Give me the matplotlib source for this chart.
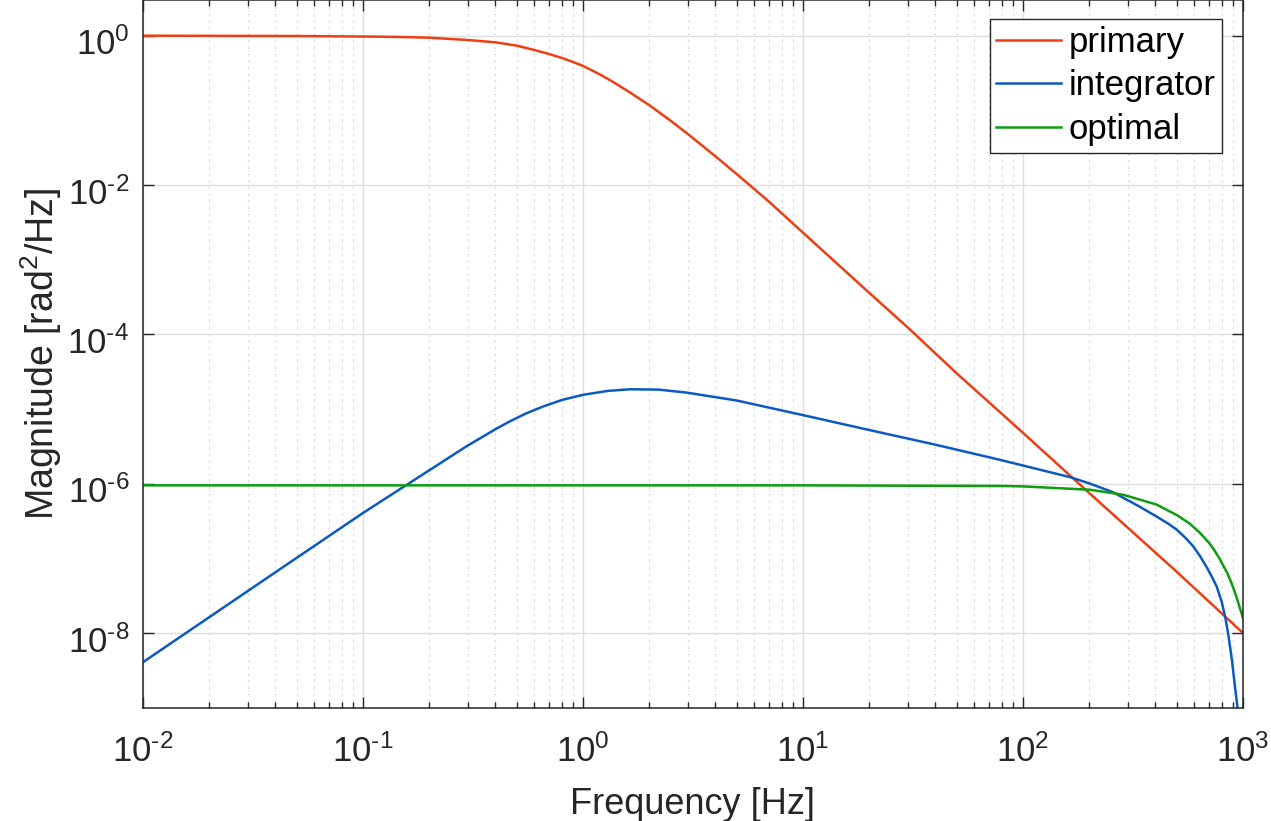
import numpy as np
import matplotlib
matplotlib.use("Agg")
import matplotlib.pyplot as plt
from matplotlib.ticker import LogLocator, NullLocator, NullFormatter, FuncFormatter
from matplotlib.transforms import ScaledTranslation

plt.rcParams.update({
    'font.family': ['Liberation Sans', 'DejaVu Sans'],
    'font.size': 25,
    'mathtext.fontset': 'custom',
    'mathtext.rm': 'Liberation Sans',
    'mathtext.it': 'Liberation Sans:italic',
    'mathtext.bf': 'Liberation Sans:bold',
    'axes.unicode_minus': False,
})

# values (frequency in Hz, magnitude in rad^2/Hz)
primary_f = [0.01, 0.05, 0.12, 0.15, 0.2, 0.3, 0.4, 0.5, 0.6, 0.7, 0.8, 0.9, 1.0, 1.2,
             1.37, 1.6, 2.0, 2.5, 3.0, 4.05, 5.0, 7.0, 10, 20, 30, 50, 100, 200, 500, 1000]
primary_m = [1.0, 0.99, 0.97, 0.96, 0.94, 0.875, 0.815, 0.736, 0.644, 0.569, 0.504,
             0.445, 0.394, 0.30, 0.240, 0.181, 0.1175, 0.0728, 0.0481, 0.0235, 0.0140,
             6.0e-3, 2.3e-3, 3.6e-4, 1.23e-4, 3.0e-5, 4.8e-6, 7.5e-7, 6.6e-8, 1.0e-8]

integ_f = [0.01, 0.0404, 0.0993, 0.157, 0.2, 0.295, 0.4, 0.465, 0.55, 0.658, 0.8, 1.0,
           1.3, 1.64, 2.2, 2.96, 5.0, 9.87, 19.8, 39.1, 78.5, 166, 202, 257, 286, 340,
           405, 460, 500, 550, 594, 638, 684, 720, 759, 800, 832, 855, 875, 893, 908,
           926, 944, 955]
integ_m = [4.07e-9, 6.65e-8, 4.0e-7, 9.55e-7, 1.51e-6, 3.16e-6, 5.37e-6, 6.84e-6,
           8.71e-6, 1.08e-5, 1.32e-5, 1.55e-5, 1.75e-5, 1.84e-5, 1.82e-5, 1.66e-5,
           1.30e-5, 8.36e-6, 5.27e-6, 3.38e-6, 2.09e-6, 1.21e-6, 1.0e-6, 7.67e-7,
           6.46e-7, 4.90e-7, 3.63e-7, 2.88e-7, 2.42e-7, 1.86e-7, 1.45e-7, 1.07e-7,
           7.6e-8, 5.75e-8, 4.21e-8, 2.63e-8, 1.58e-8, 1.0e-8, 6.3e-9, 4.07e-9, 2.63e-9,
           1.62e-9, 1.0e-9, 7.1e-10]

optimal_f = [0.01, 10, 30, 78.5, 100, 202, 286, 405, 500, 570, 638, 700, 733, 781, 815,
             850, 889, 925, 953, 1000]
optimal_m = [0.95e-6, 0.95e-6, 0.94e-6, 0.933e-6, 0.92e-6, 8.3e-7, 7.1e-7, 5.25e-7,
             3.80e-7, 2.95e-7, 2.19e-7, 1.62e-7, 1.35e-7, 1.0e-7, 7.9e-8, 6.3e-8,
             4.57e-8, 3.31e-8, 2.51e-8, 1.58e-8]

W, H = 1271, 821
fig = plt.figure(figsize=(W / 100, H / 100), dpi=100)
ax = fig.add_axes([143 / W, (H - 707.7) / H, 1100 / W, 707.7 / H])

ax.loglog(primary_f, primary_m, color='#ef3e12', lw=1.8, label='primary')
ax.loglog(integ_f, integ_m, color='#0a5ac2', lw=1.8, label='integrator')
ax.loglog(optimal_f, optimal_m, color='#0d9d0d', lw=1.8, label='optimal')

ax.set_xlim(1e-2, 1e3)
ax.set_ylim(1e-9, 10 ** 0.478)
ax.set_yticks([1e-8, 1e-6, 1e-4, 1e-2, 1e0])
ax.yaxis.set_minor_locator(NullLocator())
ax.xaxis.set_major_locator(LogLocator(base=10, numticks=20))
ax.xaxis.set_minor_locator(LogLocator(base=10, subs=np.arange(2, 10), numticks=20))
ax.xaxis.set_minor_formatter(NullFormatter())

# MATLAB style exponent labels with a plain hyphen
exp_fmt = FuncFormatter(lambda v, pos: r'$10^{\text{%d}}$' % int(round(np.log10(v))))
ax.xaxis.set_major_formatter(exp_fmt)
ax.yaxis.set_major_formatter(exp_fmt)

ax.set_axisbelow(True)
ax.grid(which='major', color='#dedede', lw=1.0)
ax.grid(which='minor', axis='x', color='#b8b8b8', lw=0.8, linestyle=(0, (1, 5)))

for s in ax.spines.values():
    s.set_color('#262626')
    s.set_linewidth(1.1)
ax.tick_params(which='both', direction='in', top=True, right=True, colors='#262626',
               labelcolor='#262626', width=1.0)
ax.tick_params(which='major', length=8, labelsize=25)
ax.tick_params(axis='x', which='major', pad=19)
ax.tick_params(axis='y', which='major', pad=10)
ax.tick_params(which='minor', length=4)

ax.set_xlabel('Frequency [Hz]', fontsize=26, color='#262626', labelpad=13)
ax.set_ylabel('Magnitude [rad$^2$/Hz]', fontsize=27, color='#262626', labelpad=2)

leg = ax.legend(loc='upper right', bbox_to_anchor=(1222.3 / W, 1 - 19 / H),
                bbox_transform=fig.transFigure, fancybox=False, framealpha=1,
                edgecolor='#262626', fontsize=25, handlelength=1.87,
                handletextpad=0.2, labelspacing=0.3, borderpad=0.2,
                borderaxespad=0)
leg.get_frame().set_linewidth(1.0)

# y tick labels sit a little lower in the reference
fig.canvas.draw()
shift = ScaledTranslation(0, -4 / 72, fig.dpi_scale_trans)
for t in ax.yaxis.get_major_ticks():
    t.label1.set_transform(t.label1.get_transform() + shift)

fig.savefig('out.png', dpi=100)
